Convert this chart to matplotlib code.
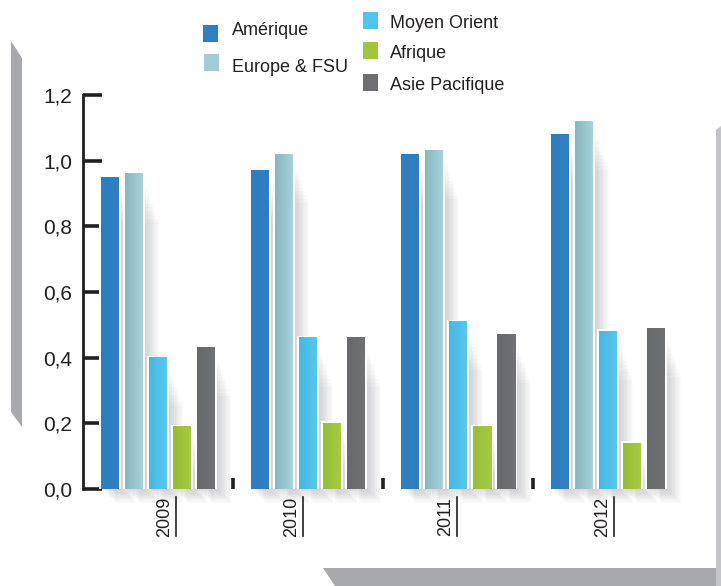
import numpy as np
import matplotlib
matplotlib.use("Agg")
import matplotlib.pyplot as plt
from matplotlib.patches import Polygon, Rectangle
from matplotlib.colors import to_rgb
import matplotlib.transforms as mtransforms

# ---- data ----
years = ["2009", "2010", "2011", "2012"]
regions = ["Amérique", "Europe & FSU", "Moyen Orient", "Afrique", "Asie Pacifique"]
amerique = [0.95, 0.97, 1.02, 1.08]
europe_fsu = [0.96, 1.02, 1.03, 1.12]
moyen_orient = [0.40, 0.46, 0.51, 0.48]
afrique = [0.19, 0.20, 0.19, 0.14]
asie_pacifique = [0.43, 0.46, 0.47, 0.49]
y_ticks = [0.0, 0.2, 0.4, 0.6, 0.8, 1.0, 1.2]
y_tick_labels = ["0,0", "0,2", "0,4", "0,6", "0,8", "1,0", "1,2"]

series = [amerique, europe_fsu, moyen_orient, afrique, asie_pacifique]
# (left shade, right shade) of each series
shades = [("#2d7dbf", "#2f80c2"),
          ("#8bb6c1", "#a5d1da"),
          ("#48b8e1", "#56c7ef"),
          ("#96bd38", "#a6cb41"),
          ("#67686c", "#717276")]
legend_colors = ["#2e7fc1", "#a0ccd6", "#52c3ec", "#a0c63c", "#6d6e72"]

W, H = 721, 586
fig = plt.figure(figsize=(W / 100, H / 100), dpi=100)
fig.patch.set_facecolor("white")


def fx(x):
    return x / W


def fy(y):
    return 1 - y / H


# grey frame pieces
grey = "#a7a9ac"
fig.patches.append(Polygon([(fx(11), fy(41)), (fx(22), fy(58)), (fx(22), fy(427)), (fx(11), fy(412))],
                           closed=True, transform=fig.transFigure, facecolor=grey, edgecolor="none"))
fig.patches.append(Polygon([(fx(323), fy(568)), (fx(721), fy(568)), (fx(721), fy(586)), (fx(335), fy(586))],
                           closed=True, transform=fig.transFigure, facecolor=grey, edgecolor="none"))
fig.patches.append(Polygon([(fx(716), fy(130)), (fx(721), fy(126)), (fx(721), fy(586)), (fx(716), fy(586))],
                           closed=True, transform=fig.transFigure, facecolor="#c4c5c8", edgecolor="none"))

ax = fig.add_axes([fx(83), fy(489), fx(683) - fx(83), (489 - 95) / H])
ax.set_facecolor("none")
ax.set_axisbelow(True)

n = len(series)
pitch = 0.16
bw = 0.12
rim_w = 0.028   # white rim around each bar (x units)
rim_h = 0.006   # white rim on top (y units)
xg = np.arange(len(years))

for i, (vals, (c0, c1)) in enumerate(zip(series, shades)):
    xs = xg + (i - (n - 1) / 2) * pitch
    v = np.array(vals)
    # soft drop shadow to the lower right
    for k in range(1, 13):
        ax.bar(xs + k * 0.0085, v - 0.01 - k * 0.008, width=bw + 0.012, bottom=-k * 0.0035,
               color="#1a1f2e", alpha=0.014, lw=0, zorder=0.8, clip_on=False)
    # white rim behind the fill
    ax.bar(xs, v + rim_h, width=bw + rim_w, color="white", lw=0, zorder=1.1)
    # gradient fill
    grad = np.linspace(0, 1, 32)
    rgb = np.array(to_rgb(c0))[None, :] * (1 - grad[:, None]) + np.array(to_rgb(c1))[None, :] * grad[:, None]
    img = rgb[None, :, :]
    for x, val in zip(xs, vals):
        ax.imshow(img, extent=[x - bw / 2, x + bw / 2, 0, val], aspect="auto",
                  interpolation="bilinear", zorder=1.2)

ax.set_xlim(-0.5, 3.5)
ax.set_ylim(0, 1.2)

for s in ["top", "right", "bottom"]:
    ax.spines[s].set_visible(False)
ax.spines["left"].set_linewidth(2.0)
ax.spines["left"].set_color("#231f20")

ax.set_yticks(y_ticks)
ax.set_yticklabels(y_tick_labels, fontsize=15, family="Liberation Sans", color="#231f20")
ax.tick_params(axis="y", direction="in", length=14, width=2.6, color="#231f20", pad=8)

# group separators along the baseline
ax.set_xticks(xg[:-1] + 0.5)
ax.set_xticklabels([])
ax.tick_params(axis="x", direction="in", length=8, width=2.6, color="#231f20")

# year labels, rotated with a rule along their baseline
label_x = [0.047, 0.893, 1.92, 2.967]
blend = mtransforms.blended_transform_factory(ax.transData, ax.transAxes)
for lx, yr in zip(label_x, years):
    ax.text(lx, -0.02, yr, rotation=90, ha="center", va="top", fontsize=13,
            family="Liberation Sans", color="#231f20", transform=blend, clip_on=False)
    ax.plot([lx + 0.075, lx + 0.075], [-0.02, -0.119], color="#231f20", lw=1.2,
            transform=blend, clip_on=False)

# legend drawn as two staggered columns
legend_font = ["Liberation Sans Narrow", "Liberation Sans"]
legend_items = [
    (203, 25, 232, 35),
    (204, 54, 232, 72),
    (363, 12, 390, 28),
    (363, 42, 390, 58),
    (363, 74, 390, 90),
]
for (sx, sy, tx, ty), name, col in zip(legend_items, regions, legend_colors):
    fig.patches.append(Rectangle((fx(sx), fy(sy + 17)), 15 / W, 17 / H, transform=fig.transFigure,
                                 facecolor=col, edgecolor="none"))
    fig.text(fx(tx), fy(ty), name, fontsize=13, family=legend_font, color="#231f20",
             ha="left", va="baseline")

fig.savefig("out.png", dpi=100)
